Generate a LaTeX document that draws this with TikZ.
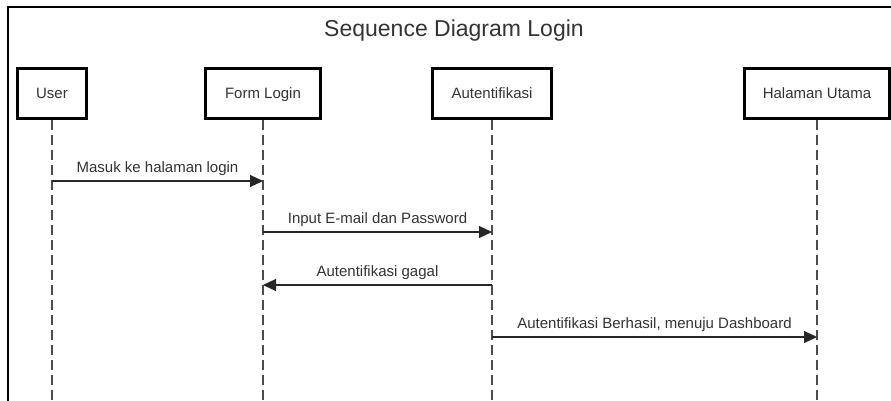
\documentclass[tikz,border=0pt]{standalone}
\usepackage{fontspec}
\setmainfont{Liberation Sans}
\usetikzlibrary{arrows.meta}

\begin{document}
\begin{tikzpicture}[x=1pt,y=-1pt,
  obj/.style={draw, line width=2.2pt, minimum height=50pt, inner sep=0pt, text height=11pt, text depth=0pt, font=\fontsize{15}{18}\selectfont, text=black!80},
  life/.style={draw=black!70, line width=1.1pt, dash pattern=on 10pt off 5pt},
  msg/.style={draw=black!85, line width=1.2pt, -{Triangle[length=13pt,width=12pt]}},
  lbl/.style={above, inner sep=4.5pt, font=\fontsize{15}{18}\selectfont, text=black!80}]

\useasboundingbox (0,0) rectangle (891,401);

\draw[line width=2.2pt] (8,401) -- (8,7) -- (891,7);
\node[anchor=base, font=\fontsize{23}{27}\selectfont, text=black!80] (title) at (454,37) {Sequence Diagram Login};

\node[obj, minimum width=69pt] (user) at (52,93.5) {User};
\node[obj, minimum width=115pt] (form) at (263,93.5) {Form Login};
\node[obj, minimum width=119pt] (auth) at (492,93.5) {Autentifikasi};
\node[obj, minimum width=145pt] (home) at (817,93.5) {Halaman Utama};

\coordinate (bot) at (0,402);
\draw[life] (user.south) -- (user |- bot);
\draw[life] (form.south) -- (form |- bot);
\draw[life] (auth.south) -- (auth |- bot);
\draw[life] (home.south) -- (home |- bot);

\coordinate (m1) at (0,181);
\coordinate (m2) at (0,232);
\coordinate (m3) at (0,285);
\coordinate (m4) at (0,337);

\draw[msg] (user |- m1) -- node[lbl] {Masuk ke halaman login} (form |- m1);
\draw[msg] (form |- m2) -- node[lbl] {Input E-mail dan Password} (auth |- m2);
\draw[msg] (auth |- m3) -- node[lbl] {Autentifikasi gagal} (form |- m3);
\draw[msg] (auth |- m4) -- node[lbl] {Autentifikasi Berhasil, menuju Dashboard} (home |- m4);
\end{tikzpicture}
\end{document}
